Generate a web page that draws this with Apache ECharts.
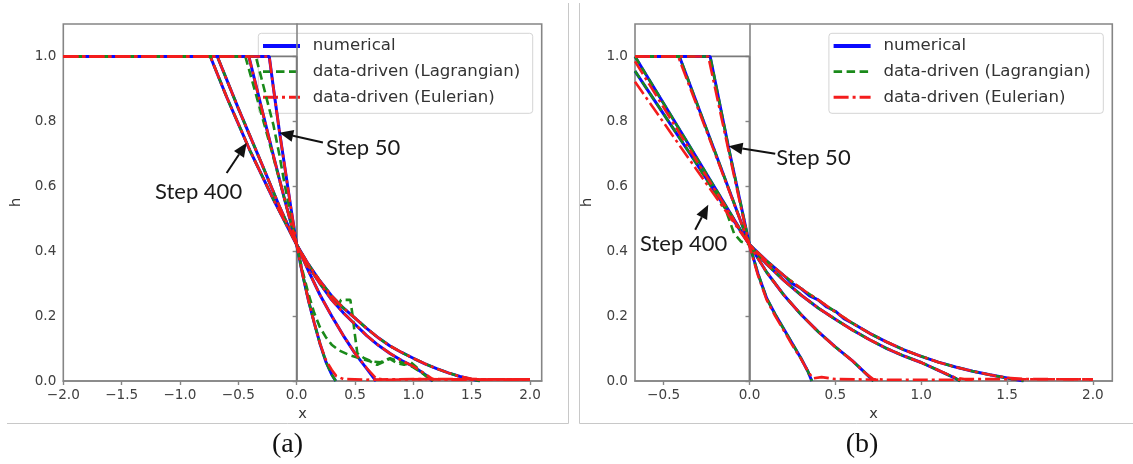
<!DOCTYPE html>
<html>
<head>
<meta charset="utf-8">
<script src="https://cdn.jsdelivr.net/npm/echarts@6/dist/echarts.min.js"></script>
<style>
  html, body { margin: 0; padding: 0; background: #fff; }
  #chart { width: 1133px; height: 464px; }
</style>
</head>
<body>
<div id="chart"></div>
<script>
// ---- values ----
const METHOD_NAMES = ['numerical', 'data-driven (Lagrangian)', 'data-driven (Eulerian)'];
const PANEL_CAPTIONS = ['(a)', '(b)'];
const X_TICKS_A = [-2, -1.5, -1, -0.5, 0, 0.5, 1, 1.5, 2];
const X_TICKS_B = [-0.5, 0, 0.5, 1, 1.5, 2];
const Y_TICKS = [0, 0.2, 0.4, 0.6, 0.8, 1.0];
const X_RANGE_A = [-2, 2.1];
const X_RANGE_B = [-0.6667, 2.113];
const Y_RANGE = [0, 1.1];

// initial step profile
const INITIAL_A = [[-2, 1], [0, 1], [0, 0]];
const INITIAL_B = [[-0.6667, 1], [0, 1], [0, 0]];

// panel (a): four snapshots (step 50 ... step 400), [x, h]
const NUMERICAL_A = [
  [[-2, 1], [-0.235, 1], [-0.2, 0.905], [-0.15, 0.775], [-0.1, 0.655], [-0.05, 0.535], [0, 0.42], [0.05, 0.33], [0.1, 0.25], [0.15, 0.18], [0.2, 0.115], [0.25, 0.06], [0.3, 0.02], [0.335, 0]],
  [[-2, 1], [-0.41, 1], [-0.3, 0.84], [-0.2, 0.695], [-0.1, 0.555], [0, 0.42], [0.1, 0.34], [0.2, 0.265], [0.3, 0.2], [0.4, 0.14], [0.5, 0.085], [0.6, 0.038], [0.68, 0]],
  [[-2, 1], [-0.68, 1], [-0.5, 0.84], [-0.3, 0.67], [-0.15, 0.54], [0, 0.42], [0.1, 0.355], [0.2, 0.3], [0.3, 0.25], [0.4, 0.21], [0.5, 0.175], [0.6, 0.14], [0.7, 0.11], [0.8, 0.085], [0.9, 0.063], [1.0, 0.045], [1.1, 0.02], [1.165, 0]],
  [[-2, 1], [-0.74, 1], [-0.6, 0.875], [-0.4, 0.71], [-0.2, 0.56], [0, 0.42], [0.1, 0.36], [0.2, 0.308], [0.3, 0.262], [0.4, 0.225], [0.5, 0.194], [0.6, 0.162], [0.7, 0.133], [0.8, 0.108], [0.9, 0.088], [1.0, 0.07], [1.1, 0.053], [1.2, 0.038], [1.3, 0.025], [1.4, 0.014], [1.5, 0.005], [1.57, 0]]
];
const LAGRANGIAN_A = [
  [[-2, 1], [-0.35, 1], [-0.3, 0.93], [-0.25, 0.86], [-0.2, 0.79], [-0.15, 0.7], [-0.1, 0.6], [-0.05, 0.51], [0, 0.42], [0.05, 0.33], [0.1, 0.25], [0.15, 0.18], [0.2, 0.115], [0.25, 0.06], [0.3, 0.02], [0.335, 0]],
  [[-2, 1], [-0.44, 1], [-0.3, 0.82], [-0.2, 0.69], [-0.1, 0.555], [0, 0.42], [0.05, 0.34], [0.1, 0.27], [0.15, 0.21], [0.2, 0.165], [0.25, 0.135], [0.3, 0.112], [0.36, 0.095], [0.45, 0.08], [0.54, 0.07], [0.62, 0.062], [0.69, 0.05], [0.75, 0.06], [0.8, 0.068], [0.86, 0.055], [0.92, 0.05], [0.97, 0.06], [1.02, 0.045], [1.1, 0.018], [1.17, 0]],
  [[-2, 1], [-0.68, 1], [-0.5, 0.84], [-0.3, 0.67], [-0.15, 0.54], [0, 0.42], [0.1, 0.355], [0.2, 0.3], [0.3, 0.255], [0.36, 0.235], [0.38, 0.25], [0.46, 0.25], [0.48, 0.2], [0.5, 0.14], [0.52, 0.085], [0.58, 0.07], [0.65, 0.06], [0.72, 0.058], [0.8, 0.07], [0.88, 0.06], [0.95, 0.05], [1.0, 0.042], [1.1, 0.018], [1.165, 0]],
  [[-2, 1], [-0.74, 1], [-0.6, 0.875], [-0.4, 0.71], [-0.2, 0.56], [0, 0.42], [0.1, 0.36], [0.2, 0.308], [0.3, 0.262], [0.4, 0.225], [0.5, 0.194], [0.6, 0.162], [0.7, 0.133], [0.8, 0.108], [0.9, 0.088], [1.0, 0.07], [1.1, 0.053], [1.2, 0.038], [1.3, 0.025], [1.4, 0.014], [1.5, 0.005], [1.57, 0]]
];
const EULERIAN_A = [
  [[-2, 1], [-0.235, 1], [-0.2, 0.905], [-0.15, 0.775], [-0.1, 0.655], [-0.05, 0.535], [0, 0.42], [0.05, 0.33], [0.1, 0.25], [0.15, 0.18], [0.2, 0.115], [0.25, 0.065], [0.3, 0.035], [0.34, 0.015], [0.4, 0.006], [0.6, 0.004], [1.0, 0.006], [1.4, 0.005], [2.0, 0.004]],
  [[-2, 1], [-0.41, 1], [-0.3, 0.84], [-0.2, 0.695], [-0.1, 0.555], [0, 0.42], [0.1, 0.34], [0.2, 0.265], [0.3, 0.2], [0.4, 0.14], [0.5, 0.085], [0.6, 0.04], [0.68, 0.008], [0.75, 0.004], [1.2, 0.006], [2.0, 0.005]],
  [[-2, 1], [-0.68, 1], [-0.5, 0.84], [-0.3, 0.67], [-0.15, 0.54], [0, 0.42], [0.1, 0.355], [0.2, 0.3], [0.3, 0.25], [0.4, 0.21], [0.5, 0.175], [0.6, 0.14], [0.7, 0.11], [0.8, 0.085], [0.9, 0.063], [1.0, 0.045], [1.1, 0.022], [1.165, 0.006], [1.3, 0.004], [2.0, 0.005]],
  [[-2, 1], [-0.74, 1], [-0.6, 0.875], [-0.4, 0.71], [-0.2, 0.56], [0, 0.42], [0.1, 0.36], [0.2, 0.308], [0.3, 0.262], [0.4, 0.225], [0.5, 0.194], [0.6, 0.162], [0.7, 0.133], [0.8, 0.108], [0.9, 0.088], [1.0, 0.07], [1.1, 0.053], [1.2, 0.038], [1.3, 0.025], [1.4, 0.014], [1.5, 0.007], [1.6, 0.005], [2.0, 0.005]]
];

// panel (b): same four snapshots on the truncated domain
const NUMERICAL_B = [
  [[-0.6667, 1], [-0.229, 1], [-0.12, 0.715], [0, 0.42], [0.05, 0.33], [0.1, 0.255], [0.15, 0.205], [0.2, 0.16], [0.25, 0.115], [0.3, 0.07], [0.34, 0.03], [0.363, 0]],
  [[-0.6667, 1], [-0.408, 1], [-0.2, 0.705], [0, 0.42], [0.1, 0.335], [0.2, 0.265], [0.3, 0.205], [0.4, 0.152], [0.5, 0.105], [0.6, 0.062], [0.68, 0.022], [0.722, 0]],
  [[-0.6667, 1], [-0.333, 0.71], [0, 0.42], [0.1, 0.36], [0.2, 0.31], [0.3, 0.265], [0.4, 0.225], [0.5, 0.19], [0.6, 0.157], [0.7, 0.127], [0.8, 0.1], [0.9, 0.077], [1.0, 0.057], [1.1, 0.033], [1.2, 0.008], [1.227, 0]],
  [[-0.6667, 0.955], [-0.333, 0.69], [0, 0.42], [0.1, 0.37], [0.2, 0.325], [0.25, 0.3], [0.3, 0.285], [0.35, 0.262], [0.4, 0.25], [0.45, 0.228], [0.5, 0.215], [0.55, 0.192], [0.6, 0.178], [0.7, 0.147], [0.8, 0.12], [0.9, 0.096], [1.0, 0.076], [1.1, 0.058], [1.2, 0.043], [1.3, 0.03], [1.4, 0.019], [1.5, 0.009], [1.596, 0]]
];
const LAGRANGIAN_B = [
  [[-0.6667, 1], [-0.229, 1], [-0.12, 0.715], [0, 0.42], [0.05, 0.33], [0.1, 0.255], [0.15, 0.205], [0.2, 0.16], [0.25, 0.115], [0.3, 0.07], [0.34, 0.03], [0.363, 0]],
  [[-0.6667, 1], [-0.408, 1], [-0.2, 0.705], [0, 0.42], [0.1, 0.335], [0.2, 0.265], [0.3, 0.205], [0.4, 0.152], [0.5, 0.105], [0.6, 0.062], [0.68, 0.022], [0.722, 0]],
  [[-0.6667, 1], [-0.333, 0.71], [0, 0.42], [0.1, 0.36], [0.2, 0.31], [0.3, 0.265], [0.4, 0.225], [0.5, 0.19], [0.6, 0.157], [0.7, 0.127], [0.8, 0.1], [0.9, 0.077], [1.0, 0.057], [1.1, 0.033], [1.2, 0.008], [1.227, 0]],
  [[-0.6667, 0.955], [-0.333, 0.69], [-0.14, 0.53], [-0.09, 0.455], [-0.05, 0.43], [0, 0.42], [0.1, 0.37], [0.2, 0.325], [0.3, 0.285], [0.4, 0.25], [0.5, 0.213], [0.6, 0.178], [0.7, 0.147], [0.8, 0.12], [0.9, 0.096], [1.0, 0.076], [1.1, 0.058], [1.2, 0.043], [1.3, 0.03], [1.4, 0.019], [1.5, 0.009], [1.596, 0]]
];
const EULERIAN_B = [
  [[-0.6667, 1], [-0.24, 1], [-0.12, 0.705], [0, 0.415], [0.05, 0.325], [0.1, 0.25], [0.15, 0.2], [0.2, 0.155], [0.25, 0.11], [0.3, 0.068], [0.34, 0.03], [0.37, 0.008], [0.42, 0.012], [0.5, 0.006], [0.75, 0.004]],
  [[-0.6667, 1], [-0.415, 1], [-0.2, 0.7], [0, 0.42], [0.1, 0.335], [0.2, 0.265], [0.3, 0.205], [0.4, 0.152], [0.5, 0.105], [0.6, 0.062], [0.68, 0.022], [0.72, 0.006], [0.8, 0.004], [1.3, 0.004]],
  [[-0.6667, 0.985], [-0.333, 0.7], [0, 0.42], [0.1, 0.36], [0.2, 0.31], [0.3, 0.265], [0.4, 0.225], [0.5, 0.19], [0.6, 0.157], [0.7, 0.127], [0.8, 0.1], [0.9, 0.077], [1.0, 0.057], [1.1, 0.033], [1.2, 0.01], [1.25, 0.006], [2.0, 0.005]],
  [[-0.6667, 0.922], [-0.333, 0.67], [0, 0.42], [0.1, 0.37], [0.2, 0.325], [0.3, 0.285], [0.4, 0.25], [0.5, 0.213], [0.6, 0.178], [0.7, 0.147], [0.8, 0.12], [0.9, 0.096], [1.0, 0.076], [1.1, 0.058], [1.2, 0.043], [1.3, 0.03], [1.4, 0.019], [1.5, 0.01], [1.6, 0.006], [2.0, 0.005]]
];

// arrow annotations in data coordinates: [label, tail, tip, text anchor]
const NOTES_A = [
  ['Step 50', [0.225, 0.735], [-0.149, 0.765], [0.251, 0.718]],
  ['Step 400', [-0.6, 0.641], [-0.428, 0.734], [-1.214, 0.584]]
];
const NOTES_B = [
  ['Step 50', [0.15, 0.70], [-0.122, 0.723], [0.156, 0.687]],
  ['Step 400', [-0.316, 0.466], [-0.24, 0.543], [-0.637, 0.423]]
];

// ---- styles ----
const SPINE = '#858585';
const TICK_TEXT = '#404040';
const METHOD_STYLES = [
  { color: '#0a0aff', width: 3, type: 'solid', z: 3 },
  { color: '#1a8a1a', width: 2.6, type: [8.5, 4.5], z: 4 },
  { color: '#f41c1c', width: 2.6, type: [15, 4, 3, 4], z: 5 }
];
const GRIDS = [
  { left: 63.3, top: 24, width: 478.4, height: 357 },
  { left: 635, top: 24, width: 477.3, height: 357 }
];

const fmt = v => (Math.abs(v) < 1e-9 ? 0 : v).toFixed(1).replace('-', '\u2212');

function xAxis(idx, range, ticks) {
  return {
    type: 'value', gridIndex: idx, min: range[0], max: range[1],
    axisLine: { show: true, onZero: false, lineStyle: { color: SPINE, width: 1.6 } },
    axisTick: { show: true, length: 4, customValues: ticks, lineStyle: { color: SPINE, width: 1.4 } },
    axisLabel: { customValues: ticks, formatter: fmt, color: TICK_TEXT, fontSize: 13.6, fontFamily: 'DejaVu Sans', margin: 7 },
    splitLine: { show: false },
    name: 'x', nameLocation: 'middle', nameGap: 24,
    nameTextStyle: { color: '#333', fontSize: 14.5, fontFamily: 'DejaVu Sans' }
  };
}
function yAxis(idx) {
  return {
    type: 'value', gridIndex: idx, min: Y_RANGE[0], max: Y_RANGE[1],
    axisLine: { show: true, lineStyle: { color: SPINE, width: 1.6 } },
    axisTick: { show: true, length: 4, customValues: Y_TICKS, lineStyle: { color: SPINE, width: 1.4 } },
    axisLabel: { customValues: Y_TICKS, formatter: fmt, color: TICK_TEXT, fontSize: 13.6, fontFamily: 'DejaVu Sans', margin: 7 },
    splitLine: { show: false },
    name: 'h', nameLocation: 'middle', nameGap: 40, nameRotate: 90,
    nameTextStyle: { color: '#333', fontSize: 14.5, fontFamily: 'DejaVu Sans' }
  };
}

const series = [];
function addInitial(idx, data) {
  series.push({
    type: 'line', name: 'initial', xAxisIndex: idx, yAxisIndex: idx, data,
    symbol: 'none', silent: true, z: 2,
    lineStyle: { color: '#7a7a7a', width: 1.8 }
  });
}
function addMethods(idx, groups) {
  groups.forEach((curves, m) => {
    const st = METHOD_STYLES[m];
    curves.forEach(curve => {
      series.push({
        type: 'line', name: METHOD_NAMES[m], xAxisIndex: idx, yAxisIndex: idx, data: curve,
        symbol: 'none', silent: true, z: st.z,
        lineStyle: { color: st.color, width: st.width, type: st.type, cap: 'butt' }
      });
    });
  });
}
addInitial(0, INITIAL_A);
addInitial(1, INITIAL_B);
addMethods(0, [NUMERICAL_A, LAGRANGIAN_A, EULERIAN_A]);
addMethods(1, [NUMERICAL_B, LAGRANGIAN_B, EULERIAN_B]);

const chart = echarts.init(document.getElementById('chart'), null, { renderer: 'canvas' });
chart.setOption({
  animation: false,
  backgroundColor: '#fff',
  grid: GRIDS.map(g => Object.assign({ show: true, borderColor: SPINE, borderWidth: 1.6, backgroundColor: 'transparent' }, g)),
  xAxis: [xAxis(0, X_RANGE_A, X_TICKS_A), xAxis(1, X_RANGE_B, X_TICKS_B)],
  yAxis: [yAxis(0), yAxis(1)],
  series
});

// ---- legend boxes, arrows, captions and panel frames ----
const graphics = [];

function legendBox(g) {
  const w = 274.4, h = 80;
  const left = g.left + g.width - 9 - w, top = g.top + 9.3;
  const children = [{
    type: 'rect', shape: { x: 0, y: 0, width: w, height: h, r: 3 },
    style: { fill: 'rgba(255,255,255,0.8)', stroke: '#d4d4d4', lineWidth: 1 }
  }];
  METHOD_NAMES.forEach((name, i) => {
    const st = METHOD_STYLES[i];
    const y = 12.7 + i * 25.65;
    children.push({
      type: 'line', shape: { x1: 4.7, y1: y, x2: 41.7, y2: y },
      style: { stroke: st.color, lineWidth: st.width + (i === 0 ? 0.8 : 0.3), lineDash: Array.isArray(st.type) ? st.type : null, lineCap: 'butt' }
    });
    children.push({
      type: 'text', x: 54.5, y: y,
      style: { text: name, fill: '#333', font: '16.6px "DejaVu Sans"', align: 'left', verticalAlign: 'middle' }
    });
  });
  return { type: 'group', x: left, y: top, z: 50, children };
}
graphics.push(legendBox(GRIDS[0]), legendBox(GRIDS[1]));

function addNotes(idx, notes) {
  notes.forEach(([label, tail, tip, anchor]) => {
    const p0 = chart.convertToPixel({ gridIndex: idx }, tail);
    const p1 = chart.convertToPixel({ gridIndex: idx }, tip);
    const pt = chart.convertToPixel({ gridIndex: idx }, anchor);
    const dx = p1[0] - p0[0], dy = p1[1] - p0[1];
    const len = Math.hypot(dx, dy);
    const ux = dx / len, uy = dy / len, nx = -uy, ny = ux;
    const headLen = 14, half = 6;
    const bx = p1[0] - ux * headLen, by = p1[1] - uy * headLen;
    graphics.push({
      type: 'line', z: 60, shape: { x1: p0[0], y1: p0[1], x2: bx, y2: by },
      style: { stroke: '#111', lineWidth: 2 }
    });
    graphics.push({
      type: 'polygon', z: 60,
      shape: { points: [[p1[0], p1[1]], [bx + nx * half, by + ny * half], [bx - nx * half, by - ny * half]] },
      style: { fill: '#111' }
    });
    graphics.push({
      type: 'text', z: 60, x: pt[0], y: pt[1],
      style: { text: label, fill: '#1a1a1a', font: '22px Lato', align: 'left', verticalAlign: 'middle' }
    });
  });
}
addNotes(0, NOTES_A);
addNotes(1, NOTES_B);

// sub-figure frames
const FRAME = '#c8c8c8';
[[568.5, 3, 568.5, 423.5], [579.5, 3, 579.5, 423.5], [7, 423.5, 568.5, 423.5], [579.5, 423.5, 1133, 423.5]]
  .forEach(([x1, y1, x2, y2]) => graphics.push({
    type: 'line', z: 1, shape: { x1, y1, x2, y2 }, style: { stroke: FRAME, lineWidth: 1 }
  }));

// captions
[[287.5, PANEL_CAPTIONS[0]], [862, PANEL_CAPTIONS[1]]].forEach(([cx, text]) => graphics.push({
  type: 'text', z: 60, x: cx, y: 445,
  style: { text, fill: '#111', font: '28px "Liberation Serif"', align: 'center', verticalAlign: 'middle' }
}));

chart.setOption({ graphic: graphics });
</script>
</body>
</html>
